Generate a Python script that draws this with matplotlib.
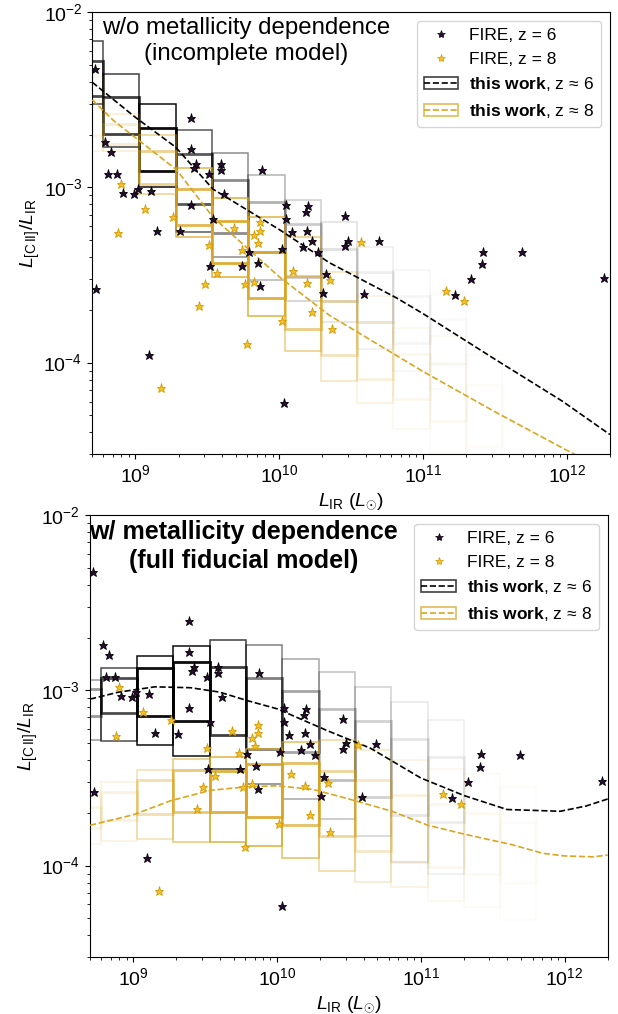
import numpy as np
import matplotlib
matplotlib.use("Agg")
import matplotlib.pyplot as plt
from matplotlib.patches import Rectangle, Patch
from matplotlib.lines import Line2D
from matplotlib.legend_handler import HandlerTuple

plt.rcParams['font.family'] = ['Liberation Sans', 'DejaVu Sans']
plt.rcParams['mathtext.fontset'] = 'custom'
plt.rcParams['mathtext.rm'] = 'Liberation Sans'
plt.rcParams['mathtext.it'] = 'Liberation Sans:italic'
plt.rcParams['mathtext.bf'] = 'Liberation Sans:bold'

# ---------------- FIRE galaxies (log10 L_IR, log10 L_CII/L_IR) ----------------
fire_z6_logLIR = [8.72, 8.79, 8.83, 8.81, 8.875, 8.917, 8.993, 9.021, 9.107, 9.149,
                  9.31, 9.387, 9.39, 9.42, 9.41, 9.514, 9.593, 9.593, 9.616, 9.39,
                  9.537, 9.878, 10.051, 10.051, 10.201, 10.19, 10.086, 10.197, 10.232,
                  10.456, 10.48, 10.02, 10.167, 9.519, 9.743, 9.79, 9.854, 8.727,
                  9.097, 9.866, 10.035, 10.267, 10.329, 10.306, 10.461, 10.692,
                  10.59, 11.22, 11.331, 11.41, 11.42, 11.688, 12.262]
fire_z6_ratio = [-2.326, -2.741, -2.798, -2.922, -2.926, -3.03, -3.04, -3.007, -3.019, -3.246,
                 -3.251, -2.606, -2.783, -2.865, -2.888, -2.922, -2.869, -2.903, -3.036, -3.099,
                 -3.179, -2.899, -3.103, -3.183, -3.107, -3.141, -3.255, -3.246, -3.307,
                 -3.162, -3.303, -3.35, -3.341, -3.446, -3.45, -3.366, -3.433, -3.579,
                 -3.954, -3.564, -4.23, -3.37, -3.497, -3.602, -3.337, -3.307,
                 -3.611, -3.613, -3.524, -3.436, -3.366, -3.371, -3.516]

fire_z8_logLIR = [8.899, 9.067, 8.882, 9.26, 9.512, 9.688, 9.866, 9.866, 9.824, 9.85,
                  9.739, 9.569, 9.484, 9.442, 9.178, 9.762, 9.778, 9.824, 10.017,
                  10.097, 10.197, 10.229, 10.352, 10.371, 10.567, 11.158, 11.283]
fire_z8_ratio = [-2.983, -3.122, -3.259, -3.17, -3.331, -3.232, -3.198, -3.246, -3.274, -3.318,
                 -3.36, -3.487, -3.55, -3.678, -4.145, -3.553, -3.893, -3.537, -3.764,
                 -3.478, -3.545, -3.709, -3.531, -3.807, -3.312, -3.59, -3.65]

# ---------------- binned model distributions (log10 values) ----------------
bin_edges = [8.5225, 8.775, 9.0275, 9.28, 9.5325, 9.785, 10.0375, 10.29, 10.5425,
             10.795, 11.0475, 11.30, 11.5525, 11.805]

# panel 1: no metallicity dependence
p1_z6_outer_lo = [-2.526, -2.77, -2.998, -3.257, -3.398, -3.53, -3.65, -3.77, -3.92, -4.046, -4.15]
p1_z6_inner_lo = [-2.477, -2.693, -2.909, -3.097, -3.261, -3.37, -3.513, -3.646, -3.77, -3.89, -4.0]
p1_z6_inner_hi = [-2.28, -2.484, -2.659, -2.811, -2.956, -3.084, -3.206, -3.35, -3.484, -3.617, -3.75]
p1_z6_outer_hi = [-2.164, -2.354, -2.522, -2.674, -2.806, -2.931, -3.074, -3.198, -3.341, -3.474, -3.6]
p1_z6_alpha = [0.7, 0.75, 0.95, 0.65, 0.45, 0.3, 0.2, 0.12, 0.07, 0.04, 0.02]

p1_z8_outer_lo = [-2.79, -2.79, -3.04, -3.284, -3.513, -3.735, -3.931, -4.103, -4.233, -4.379, -4.514, -4.65]
p1_z8_inner_lo = [-2.70, -2.75, -2.98, -3.213, -3.43, -3.633, -3.807, -3.954, -4.093, -4.207, -4.331, -4.474]
p1_z8_inner_hi = [-2.50, -2.64, -2.79, -3.007, -3.189, -3.366, -3.507, -3.646, -3.77, -3.95, -4.006, -4.126]
p1_z8_outer_hi = [-2.37, -2.58, -2.70, -2.89, -3.061, -3.17, -3.284, -3.484, -3.617, -3.80, -3.846, -3.954]
p1_z8_alpha = [0.12, 0.2, 0.5, 0.8, 0.9, 0.85, 0.55, 0.3, 0.15, 0.08, 0.05, 0.03]

# panel 2: full fiducial model
p2_z6_outer_lo = [-3.286, -3.29, -3.31, -3.375, -3.447, -3.533, -3.62, -3.733, -3.829, -3.981, -4.05]
p2_z6_inner_lo = [-3.149, -3.13, -3.147, -3.177, -3.253, -3.333, -3.35, -3.514, -3.61, -3.714, -3.75]
p2_z6_inner_hi = [-2.994, -2.927, -2.87, -2.838, -2.867, -2.927, -3.004, -3.105, -3.177, -3.276, -3.381]
p2_z6_outer_hi = [-2.943, -2.87, -2.806, -2.749, -2.714, -2.743, -2.819, -2.895, -2.981, -3.067, -3.167]
p2_z6_alpha = [0.4, 0.7, 0.95, 0.95, 0.75, 0.5, 0.35, 0.25, 0.18, 0.1, 0.07]

p2_z8_outer_lo = [-3.876, -3.857, -3.847, -3.867, -3.867, -3.891, -3.956, -4.029, -4.095, -4.124, -4.20, -4.238, -4.31]
p2_z8_inner_lo = [-3.785, -3.739, -3.705, -3.695, -3.695, -3.72, -3.766, -3.829, -3.914, -3.98, -4.01, -4.05, -4.10]
p2_z8_inner_hi = [-3.663, -3.581, -3.514, -3.457, -3.461, -3.419, -3.415, -3.461, -3.514, -3.60, -3.65, -3.70, -3.75]
p2_z8_outer_hi = [-3.61, -3.524, -3.453, -3.39, -3.381, -3.333, -3.295, -3.286, -3.343, -3.40, -3.45, -3.476, -3.55]
p2_z8_alpha = [0.1, 0.15, 0.35, 0.6, 0.85, 0.9, 0.7, 0.45, 0.25, 0.15, 0.08, 0.05, 0.03]

# ---------------- median model curves ----------------
p1_z6_curve_x = [8.70, 9.0, 9.28, 9.54, 10.0, 10.35, 10.815, 11.0, 11.5, 11.97, 12.3]
p1_z6_curve_y = [-2.40, -2.60, -2.77, -3.01, -3.24, -3.43, -3.63, -3.72, -3.98, -4.22, -4.41]
p1_z8_curve_x = [8.70, 8.85, 9.287, 9.54, 10.0, 10.35, 11.0, 11.5, 12.0, 12.3]
p1_z8_curve_y = [-2.50, -2.62, -2.90, -3.17, -3.51, -3.73, -4.05, -4.28, -4.50, -4.62]

p2_z6_curve_x = [8.70, 8.9, 9.15, 9.4, 9.6, 9.8, 10.0, 10.35, 10.65, 11.0, 11.3, 11.6, 11.97, 12.15, 12.3]
p2_z6_curve_y = [-3.05, -3.01, -2.98, -2.985, -3.01, -3.06, -3.105, -3.23, -3.33, -3.50, -3.60, -3.68, -3.69, -3.66, -3.62]
p2_z8_curve_x = [8.70, 9.0, 9.26, 9.54, 9.8, 10.0, 10.25, 10.5, 10.8, 11.05, 11.3, 11.63, 11.85, 12.0, 12.2, 12.3]
p2_z8_curve_y = [-3.77, -3.71, -3.63, -3.57, -3.55, -3.545, -3.565, -3.62, -3.69, -3.77, -3.82, -3.88, -3.93, -3.945, -3.95, -3.94]

GOLD = '#DAA520'
Z6_FACE = '#2b0b35'
Z8_FACE = '#f2c12e'


def draw_boxes(ax, lo_out, lo_in, hi_in, hi_out, alphas, color):
    for i in range(len(alphas)):
        x0 = 10 ** bin_edges[i]
        x1 = 10 ** bin_edges[i + 1]
        ax.add_patch(Rectangle((x0, 10 ** lo_out[i]), x1 - x0,
                               10 ** hi_out[i] - 10 ** lo_out[i], fill=False,
                               edgecolor=color, alpha=alphas[i], lw=1.1, zorder=2))
        ax.add_patch(Rectangle((x0, 10 ** lo_in[i]), x1 - x0,
                               10 ** hi_in[i] - 10 ** lo_in[i], fill=False,
                               edgecolor=color, alpha=alphas[i], lw=2.0, zorder=2))


def draw_panel(ax, z6_boxes, z8_boxes, z6_curve, z8_curve, title, bold):
    draw_boxes(ax, *z6_boxes, 'k')
    draw_boxes(ax, *z8_boxes, GOLD)
    ax.plot(10 ** np.array(z6_curve[0]), 10 ** np.array(z6_curve[1]), '--', color='k', lw=1.2, zorder=3)
    ax.plot(10 ** np.array(z8_curve[0]), 10 ** np.array(z8_curve[1]), '--', color=GOLD, lw=1.2, zorder=3)
    ax.plot(10 ** np.array(fire_z6_logLIR), 10 ** np.array(fire_z6_ratio), '*', ls='none',
            mfc=Z6_FACE, mec='k', mew=0.6, ms=6.5, zorder=4)
    ax.plot(10 ** np.array(fire_z8_logLIR), 10 ** np.array(fire_z8_ratio), '*', ls='none',
            mfc=Z8_FACE, mec='#d49a00', mew=0.6, ms=6.5, zorder=4)
    ax.set_xscale('log')
    ax.set_yscale('log')
    ax.set_xlim(5e8, 2e12)
    ax.set_ylim(3e-5, 1e-2)
    ax.tick_params(labelsize=14)
    ax.set_xlabel(r'$L_{\rm IR}$ ($L_{\odot}$)', fontsize=14)
    ax.set_ylabel(r'$L_{\rm [C\,II]}/L_{\rm IR}$', fontsize=14, labelpad=1)
    ax.text(0.297, 0.99, title, transform=ax.transAxes, ha='center', va='top',
            fontsize=18 if bold else 17.3, fontweight='bold' if bold else 'normal',
            linespacing=1.28)

    h1 = Line2D([], [], marker='*', ls='none', mfc=Z6_FACE, mec='k', mew=0.5, ms=6)
    h2 = Line2D([], [], marker='*', ls='none', mfc=Z8_FACE, mec='#d49a00', mew=0.5, ms=6)
    h3 = (Patch(facecolor='none', edgecolor='k', alpha=0.75, lw=1.2),
          Line2D([], [], ls='--', color='k', lw=1.2))
    h4 = (Patch(facecolor='none', edgecolor=GOLD, alpha=0.75, lw=1.2),
          Line2D([], [], ls='--', color=GOLD, lw=1.2))
    ax.legend([h1, h2, h3, h4],
              ['FIRE, z = 6', 'FIRE, z = 8',
               r'$\mathbf{this\ work}$, z$\,\approx\,$6', r'$\mathbf{this\ work}$, z$\,\approx\,$8'],
              handler_map={tuple: HandlerTuple(ndivide=1, pad=0)},
              loc='upper right', fontsize=12.5, handletextpad=0.6, borderaxespad=0.5)


fig = plt.figure(figsize=(6.18, 10.14), dpi=100)
ax1 = fig.add_axes([0.149, 0.552, 0.838, 0.436])
ax2 = fig.add_axes([0.1455, 0.056, 0.838, 0.436])

draw_panel(ax1,
           (p1_z6_outer_lo, p1_z6_inner_lo, p1_z6_inner_hi, p1_z6_outer_hi, p1_z6_alpha),
           (p1_z8_outer_lo, p1_z8_inner_lo, p1_z8_inner_hi, p1_z8_outer_hi, p1_z8_alpha),
           (p1_z6_curve_x, p1_z6_curve_y), (p1_z8_curve_x, p1_z8_curve_y),
           'w/o metallicity dependence\n(incomplete model)', False)
draw_panel(ax2,
           (p2_z6_outer_lo, p2_z6_inner_lo, p2_z6_inner_hi, p2_z6_outer_hi, p2_z6_alpha),
           (p2_z8_outer_lo, p2_z8_inner_lo, p2_z8_inner_hi, p2_z8_outer_hi, p2_z8_alpha),
           (p2_z6_curve_x, p2_z6_curve_y), (p2_z8_curve_x, p2_z8_curve_y),
           'w/ metallicity dependence\n(full fiducial model)', True)

fig.savefig('out.png', dpi=100)
